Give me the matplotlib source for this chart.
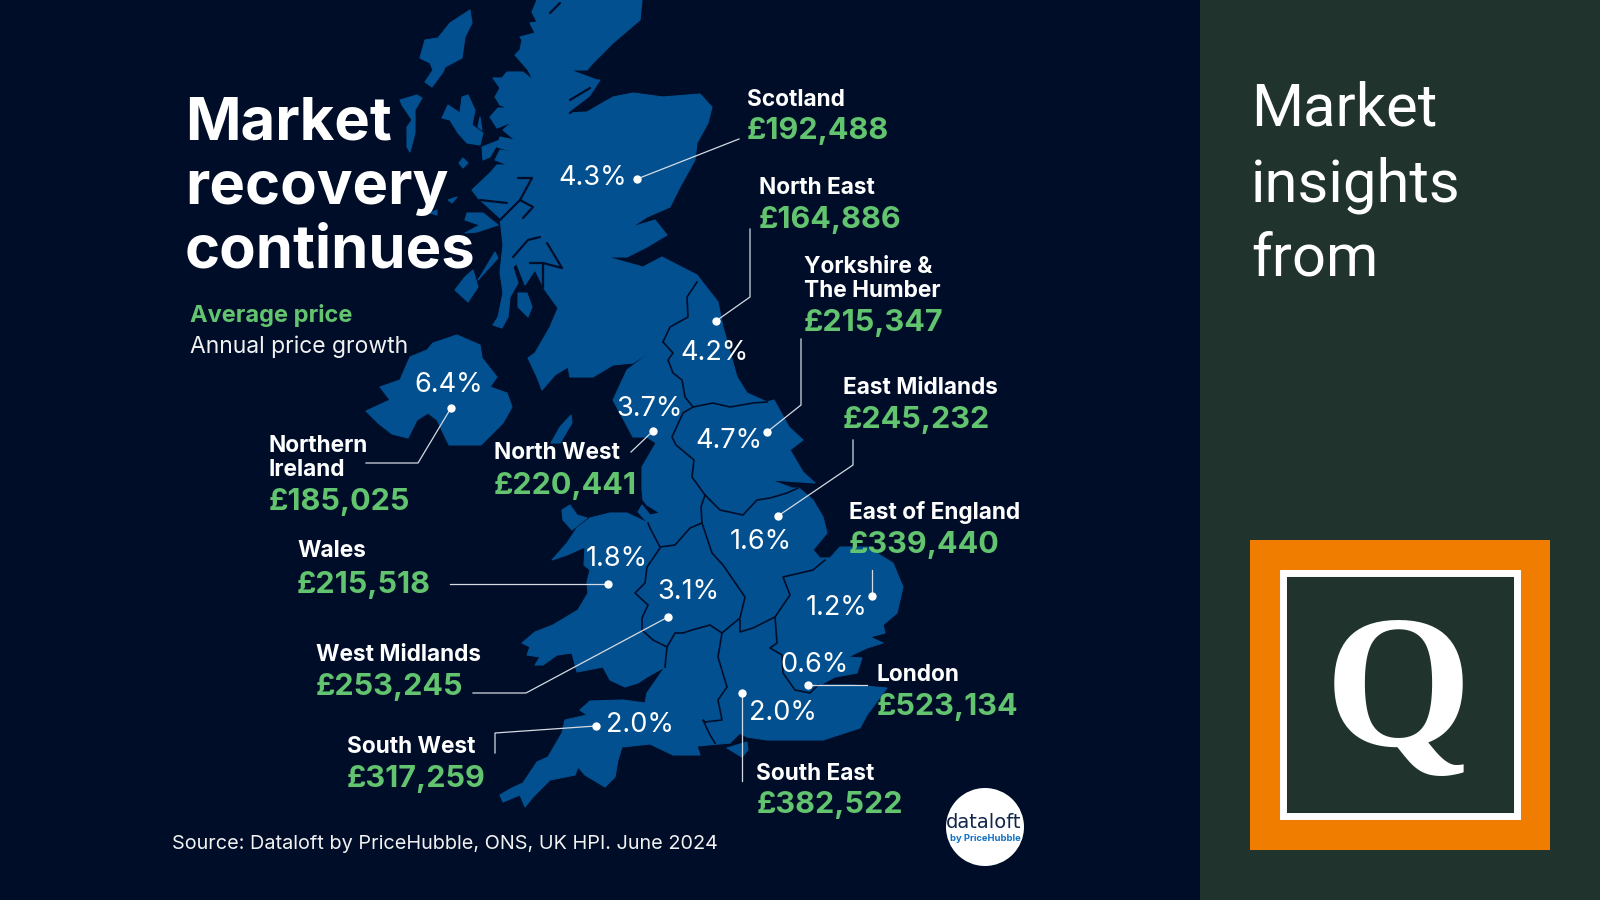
import matplotlib
matplotlib.use("Agg")
import matplotlib.pyplot as plt
from matplotlib.patches import Rectangle, Circle, Polygon

# colours
NAVY = "#000d29"
BLUE = "#02508f"
GREEN = "#62c46f"
PANEL = "#20342d"
ORANGE = "#f07d00"

# data
regions = ["Scotland", "North East", "Yorkshire &\nThe Humber", "East Midlands", "East of England",
           "London", "South East", "South West", "West Midlands", "Wales", "North West", "Northern\nIreland"]
prices = ["£192,488", "£164,886", "£215,347", "£245,232", "£339,440", "£523,134",
          "£382,522", "£317,259", "£253,245", "£215,518", "£220,441", "£185,025"]
growth = [4.3, 4.2, 4.7, 1.6, 1.2, 0.6, 2.0, 2.0, 3.1, 1.8, 3.7, 6.4]

# layout, pixels of the 1600x900 picture
name_xy = [(747, 106), (759, 194), (804, 297), (843, 394), (849, 519), (876, 681),
           (756, 780), (347, 753), (316, 661), (297, 557), (494, 459), (269, 476)]
price_xy = [(747, 139), (759, 228), (804, 331), (843, 428), (849, 553), (877, 715),
            (757, 813), (347, 787), (316, 695), (297, 593), (494, 494), (269, 510)]
pct_xy = [(593, 178), (714, 353), (729, 441), (761, 542), (837, 608), (814, 665),
          (783, 713), (640, 725), (688, 592), (617, 559), (649, 409), (449, 385)]
leaders = [
    [(637, 179), (739, 139)],
    [(716, 321), (750, 297), (750, 229)],
    [(767, 432), (801, 405), (801, 339)],
    [(778, 516), (853, 465), (853, 440)],
    [(872, 596), (872, 570)],
    [(808, 685), (867, 685)],
    [(742, 693), (742, 781)],
    [(596, 726), (495, 733), (495, 753)],
    [(668, 617), (526, 693), (473, 693)],
    [(608, 584), (450, 584)],
    [(653, 431), (631, 452)],
    [(451, 408), (418, 463), (366, 463)],
]

gb_coast = [
    (537, 0), (642, 0), (640, 20), (613, 43), (593, 63), (587, 70), (570, 70), (597, 80), (600, 80), (587, 100),
    (568, 113), (587, 112), (613, 97), (633, 93), (663, 97), (700, 94), (712, 107), (708, 123), (697, 143),
    (695, 160), (680, 187), (670, 207), (647, 217), (632, 227), (655, 220), (667, 235), (647, 247), (627, 257),
    (607, 257), (643, 267), (662, 257), (697, 275), (718, 302), (723, 327), (737, 377), (747, 393), (767, 402),
    (774, 400), (789, 427), (803, 440), (790, 450), (803, 472), (815, 483), (771, 480), (792, 488), (799, 488),
    (813, 500), (823, 517), (827, 533), (813, 550), (820, 558), (830, 558), (840, 547), (867, 547), (893, 563),
    (903, 587), (897, 613), (883, 625), (885, 633), (870, 637), (883, 643), (867, 648), (848, 657), (862, 658),
    (857, 673), (835, 677), (820, 685), (853, 685), (887, 688), (867, 715), (860, 728), (823, 740), (767, 740),
    (747, 737), (730, 728), (740, 733), (730, 743), (697, 746), (700, 755), (673, 755), (650, 744), (622, 747),
    (618, 760), (615, 777), (605, 787), (585, 775), (578, 767), (575, 775), (550, 780), (533, 797), (525, 807),
    (520, 795), (503, 802), (500, 795), (512, 788), (523, 783), (537, 762), (548, 757), (562, 733), (565, 720),
    (587, 715), (580, 710), (590, 701), (623, 700), (645, 703), (647, 693), (665, 667),
    # Wales
    (647, 677), (638, 683), (625, 687), (610, 680), (603, 667), (577, 672), (572, 653), (557, 655), (543, 665),
    (535, 665), (540, 657), (527, 655), (530, 647), (522, 643), (535, 632), (553, 625), (578, 610), (588, 593),
    (587, 582), (590, 570), (584, 565), (585, 547), (567, 555), (552, 560), (567, 543), (577, 528), (590, 518),
    (610, 513), (627, 513), (648, 523), (638, 512), (642, 505), (650, 515), (660, 513), (647, 505), (643, 500),
    (642, 490), (642, 467), (656, 443), (647, 437), (633, 437), (620, 413), (613, 400), (627, 370), (660, 345),
    # south and west of Scotland
    (633, 363), (613, 365), (593, 377), (570, 377), (568, 367), (555, 375), (542, 390), (537, 377), (528, 358),
    (535, 353), (550, 327), (558, 308), (545, 290), (535, 270), (525, 285), (516, 262), (540, 237), (513, 267),
    (518, 283), (510, 297), (508, 317), (502, 328), (493, 325), (498, 317), (503, 293), (500, 272), (503, 245),
    (500, 218), (478, 198), (472, 190), (490, 173), (497, 165), (508, 165), (495, 160), (500, 150), (517, 153),
    (497, 147), (500, 137), (515, 140), (503, 130), (512, 122), (497, 128), (490, 117), (498, 108), (508, 108),
    (500, 105), (495, 97), (500, 88), (493, 78), (502, 78), (507, 72), (523, 72), (533, 80), (528, 70), (515, 55),
    (520, 50), (522, 40), (520, 37), (535, 33), (530, 23), (537, 22), (532, 12),
]

islands = [
    # Northern Ireland
    [(457, 335), (480, 345), (482, 358), (497, 377), (490, 387), (507, 393), (512, 407), (503, 423), (481, 445),
     (449, 445), (437, 420), (428, 413), (417, 420), (408, 438), (392, 434), (378, 423), (366, 411), (390, 400),
     (380, 387), (400, 380), (410, 357), (427, 350), (433, 343)],
    # Lewis and Harris
    [(470, 10), (472, 23), (465, 37), (462, 58), (445, 67), (443, 72), (432, 87), (425, 82), (433, 70), (430, 63),
     (420, 58), (425, 40), (438, 38), (450, 23)],
    # Uists
    [(400, 100), (417, 95), (422, 98), (415, 110), (415, 133), (410, 152), (407, 147), (407, 127), (412, 120), (402, 105)],
    # Skye and Raasay
    [(462, 97), (468, 95), (475, 110), (472, 125), (483, 133), (480, 145), (467, 143), (458, 133), (450, 120),
     (442, 118), (448, 105), (460, 113)],
    [(480, 117), (482, 130), (478, 127)],
    # Rum
    [(463, 158), (468, 163), (463, 168), (459, 163)],
    # Knoydart side
    [(482, 147), (500, 140), (490, 157), (483, 160)],
    # Coll and Tiree
    [(448, 200), (457, 197), (452, 203)],
    [(430, 213), (437, 210), (437, 215)],
    # Mull
    [(467, 213), (483, 213), (498, 225), (477, 232), (465, 233), (480, 225), (465, 220)],
    # Jura
    [(495, 252), (480, 277), (478, 280), (498, 258)],
    # Islay
    [(473, 270), (478, 287), (468, 302), (455, 290), (465, 277)],
    # Arran
    [(518, 293), (527, 293), (532, 307), (528, 317), (518, 307)],
    # Anglesey
    [(562, 510), (570, 505), (577, 515), (587, 518), (572, 530), (563, 520)],
    # Isle of Man
    [(571, 415), (572, 423), (560, 443), (551, 443), (560, 427)],
    # Isle of Wight
    [(727, 748), (747, 742), (748, 750), (742, 757)],
]

# dark lines: region borders and sea lochs
borders = [
    [(697, 282), (687, 297), (688, 317), (670, 327), (663, 342)],
    [(663, 342), (673, 353), (668, 360), (673, 373), (682, 380), (685, 397), (693, 407)],
    [(693, 407), (713, 403), (730, 407), (753, 403), (767, 402)],
    [(693, 407), (683, 413), (672, 437), (676, 445), (694, 460), (692, 477), (705, 495)],
    [(705, 495), (720, 510), (743, 515), (757, 500), (770, 498), (787, 493), (798, 488)],
    [(705, 495), (701, 507), (702, 523)],
    [(702, 523), (690, 528), (675, 545), (660, 547), (650, 528), (648, 523)],
    [(660, 548), (647, 567), (645, 583), (635, 593), (648, 605), (642, 618), (642, 630), (653, 640), (667, 647), (665, 667)],
    [(667, 647), (675, 633), (683, 633), (692, 630), (710, 625), (722, 633)],
    [(702, 523), (712, 553), (723, 565), (745, 597), (740, 618), (722, 633)],
    [(740, 620), (740, 632), (753, 628), (775, 617)],
    [(775, 617), (790, 595), (783, 577), (813, 570), (825, 560)],
    [(775, 617), (777, 643), (770, 648), (782, 655), (783, 673), (795, 690), (810, 693), (818, 685)],
    [(722, 633), (718, 657), (727, 687), (718, 700), (722, 720), (705, 722), (703, 720), (710, 735), (715, 743)],
]
lochs = [
    [(500, 220), (520, 200), (532, 178), (518, 178)],
    [(520, 200), (533, 207), (523, 218)],
    [(507, 203), (480, 200)],
    [(513, 257), (528, 240), (540, 237)],
    [(547, 243), (562, 268), (543, 263), (530, 263)],
    [(543, 263), (543, 287)],
    [(550, 13), (560, 3)],
    [(570, 100), (590, 88)],
    [(570, 113), (587, 100), (600, 90)],
]

fig = plt.figure(figsize=(16, 9), dpi=100, facecolor=NAVY)
ax = fig.add_axes([0, 0, 1, 1])
ax.set_xlim(0, 1600)
ax.set_ylim(900, 0)
ax.axis("off")

ax.add_patch(Rectangle((1200, 0), 400, 900, color=PANEL, lw=0))

# map
ax.add_patch(Polygon(gb_coast, closed=True, fc=BLUE, ec=BLUE, lw=0.8, joinstyle="round"))
for isl in islands:
    ax.add_patch(Polygon(isl, closed=True, fc=BLUE, ec=BLUE, lw=0.8, joinstyle="round"))
for b in borders:
    ax.plot(*zip(*b), color=NAVY, lw=1.2, solid_joinstyle="round")
for l in lochs:
    ax.plot(*zip(*l), color=NAVY, lw=1.6, solid_capstyle="round")

# heading
for txt, y in zip(["Market", "recovery", "continues"], [139, 204, 268]):
    ax.text(185, y, txt, color="white", fontsize=43, fontweight="bold", family="Inter", va="baseline")
ax.text(190, 322, "Average price", color=GREEN, fontsize=17, fontweight="bold", family="Inter", va="baseline")
ax.text(190, 353, "Annual price growth", color="#f2f2f2", fontsize=16.5, family="Inter", va="baseline")

# leaders and labels
for pts in leaders:
    ax.plot(*zip(*pts), color="#d5dbe3", lw=0.9, zorder=3)
    ax.scatter(*pts[0], s=36, color="white", lw=0, zorder=4)
for name, (x, y) in zip(regions, name_xy):
    ax.text(x, y, name, color="white", fontsize=16.3, fontweight="bold", family="Inter",
            va="baseline", linespacing=1.1, zorder=5)
for p, (x, y) in zip(prices, price_xy):
    ax.text(x, y, p, color=GREEN, fontsize=22, fontweight="bold", family="Inter", va="baseline", zorder=5)
for g, (x, y) in zip(growth, pct_xy):
    ax.text(x, y, f"{g:.1f}%", color="white", fontsize=19.5, family="Inter", ha="center", va="center", zorder=5)

ax.text(172, 849, "Source: Dataloft by PriceHubble, ONS, UK HPI. June 2024", color="#f2f2f2",
        fontsize=14.3, family="Inter", va="baseline")

# dataloft badge
ax.add_patch(Circle((985, 827), 39, color="white", lw=0))
ax.text(984, 828, "dataloft", color="#12264a", fontsize=14, family="DejaVu Sans", ha="center", va="baseline")
ax.text(985, 841, "by PriceHubble", color="#1173c6", fontsize=6.8, fontweight="bold", family="Inter", ha="center", va="baseline")

# right panel
for txt, y in zip(["Market", "insights", "from"], [126, 202, 276]):
    ax.text(1251, y, txt, color="white", fontsize=43, family="Roboto", va="baseline")

ax.add_patch(Rectangle((1250, 540), 300, 310, color=ORANGE, lw=0))
ax.add_patch(Rectangle((1282.5, 572.5), 234, 243, fc=PANEL, ec="white", lw=5))
ax.text(1398, 745, "Q", color="white", fontsize=136, fontweight="bold", family="Liberation Serif", ha="center", va="baseline")

fig.savefig("out.png", dpi=100, facecolor=fig.get_facecolor())
